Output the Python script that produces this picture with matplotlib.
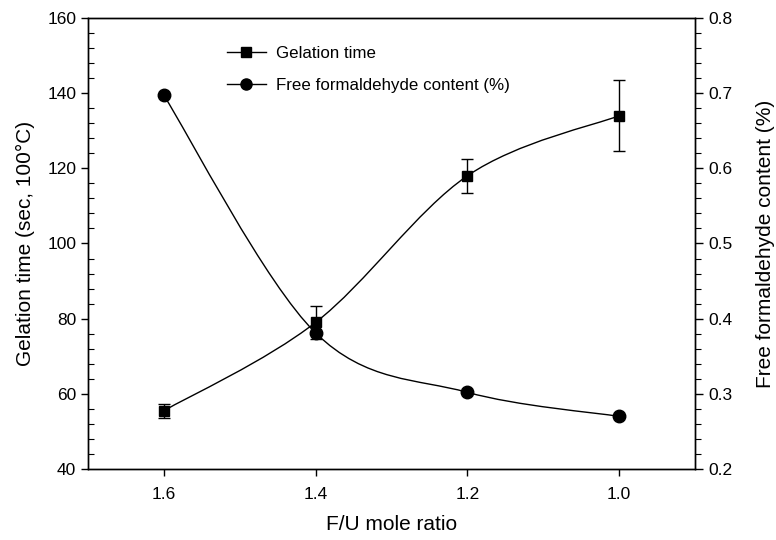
import matplotlib
matplotlib.use("Agg")
import matplotlib.pyplot as plt
from matplotlib.path import Path
from matplotlib.patches import PathPatch
from matplotlib.ticker import MultipleLocator

plt.rcParams["font.family"] = ["Liberation Sans", "DejaVu Sans"]

mole_ratio = [1.6, 1.4, 1.2, 1.0]
gel_time = [55.5, 79.0, 118.0, 134.0]
gel_err = [1.9, 4.3, 4.5, 9.5]
free_hcho = [0.697, 0.381, 0.302, 0.270]
x_ticks = [1.6, 1.4, 1.2, 1.0]


def smooth_path(xs, ys):
    # Catmull-Rom curve through the points, drawn as cubic Bezier segments
    pts = list(zip(xs, ys))
    verts = [pts[0]]
    codes = [Path.MOVETO]
    n = len(pts)
    for i in range(n - 1):
        p0 = pts[max(i - 1, 0)]
        p1 = pts[i]
        p2 = pts[i + 1]
        p3 = pts[min(i + 2, n - 1)]
        c1 = (p1[0] + (p2[0] - p0[0]) / 6, p1[1] + (p2[1] - p0[1]) / 6)
        c2 = (p2[0] - (p3[0] - p1[0]) / 6, p2[1] - (p3[1] - p1[1]) / 6)
        verts += [c1, c2, p2]
        codes += [Path.CURVE4] * 3
    return Path(verts, codes)


fig = plt.figure(figsize=(7.76, 5.4), dpi=100)
ax = fig.add_axes([0.1134, 0.1315, 0.7822, 0.8352])
ax2 = ax.twinx()

ax.add_patch(PathPatch(smooth_path(mole_ratio, gel_time), fill=False, color="black", lw=1.0))
ax.errorbar(mole_ratio, gel_time, yerr=gel_err, fmt="none", ecolor="black",
            elinewidth=1.0, capsize=4.5, capthick=1.0)
ax.plot(mole_ratio, gel_time, ls="none", marker="s", ms=7.5, color="black")

ax2.add_patch(PathPatch(smooth_path(mole_ratio, free_hcho), fill=False, color="black", lw=1.0))
ax2.plot(mole_ratio, free_hcho, ls="none", marker="o", ms=9, color="black")

ax.set_xlim(1.7, 0.9)
ax.set_ylim(40, 160)
ax2.set_ylim(0.2, 0.8)
ax.set_xticks(x_ticks)
ax.set_xticklabels([f"{v:.1f}" for v in x_ticks])
ax.yaxis.set_major_locator(MultipleLocator(20))
ax.yaxis.set_minor_locator(MultipleLocator(4))
ax2.yaxis.set_major_locator(MultipleLocator(0.1))
ax2.yaxis.set_minor_locator(MultipleLocator(0.02))

ax.tick_params(axis="both", which="major", direction="out", length=5, labelsize=12.5, width=1)
ax.tick_params(axis="x", which="major", pad=8)
ax.tick_params(axis="y", which="minor", direction="in", length=4, width=0.8)
ax2.tick_params(axis="y", which="major", direction="out", length=6, labelsize=12.5, width=1)
ax2.tick_params(axis="y", which="minor", direction="out", length=4, width=0.8)

ax.set_xlabel("F/U mole ratio", fontsize=15, labelpad=9)
ax.set_ylabel("Gelation time (sec, 100\u00b0C)", fontsize=15, labelpad=9)
ax2.set_ylabel("Free formaldehyde content (%)", fontsize=15, labelpad=17)

for a in (ax, ax2):
    for s in a.spines.values():
        s.set_linewidth(1.0)

h1 = ax.plot([], [], marker="s", ms=6.5, color="black", lw=1.0, label="Gelation time")[0]
h2 = ax.plot([], [], marker="o", ms=8, color="black", lw=1.0, label="Free formaldehyde content (%)")[0]
ax.legend(handles=[h1, h2], loc="upper left", bbox_to_anchor=(0.229, 0.937), frameon=False,
          fontsize=12.2, handlelength=2.3, handletextpad=0.6, labelspacing=1.0,
          borderaxespad=0, borderpad=0)

fig.savefig("out.png", dpi=100)
